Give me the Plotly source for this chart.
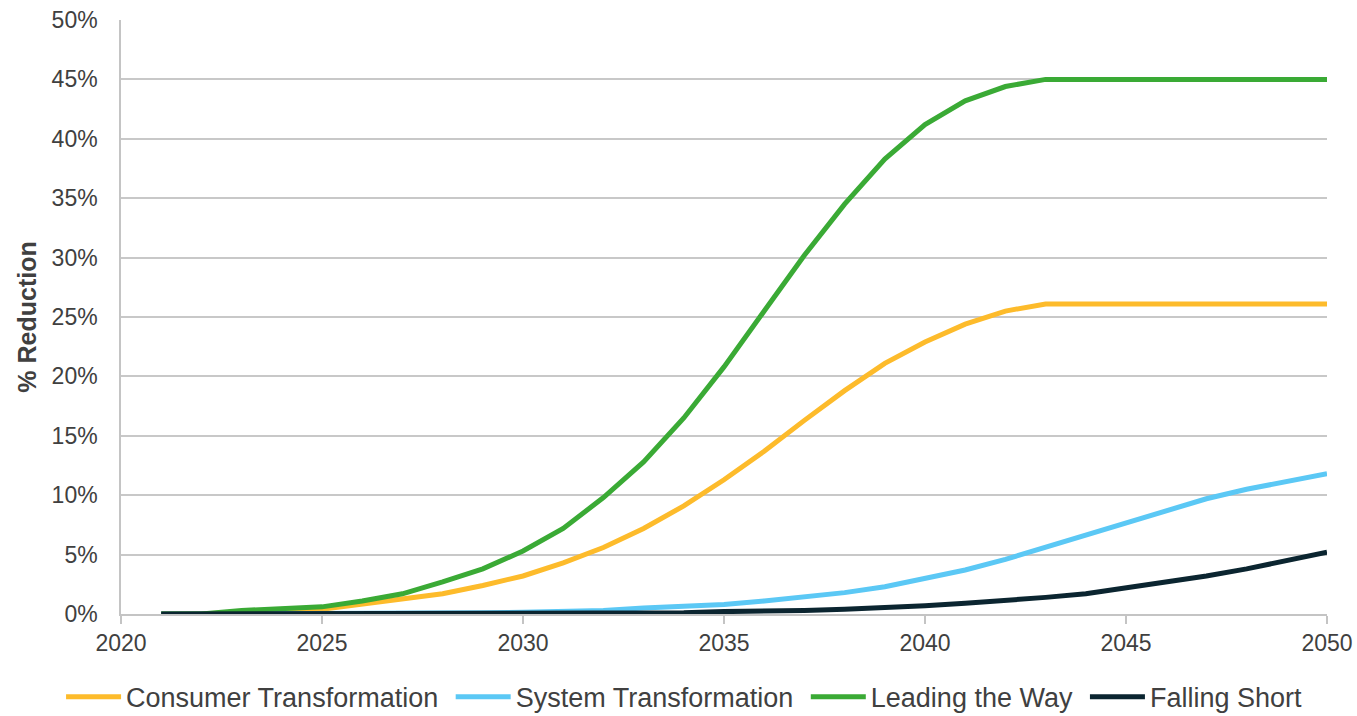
import plotly.graph_objects as go

years = list(range(2021, 2051))

consumer = [0.0, 0.0, 0.0, 0.1, 0.4, 0.8, 1.2, 1.7, 2.4, 3.2,
            4.3, 5.6, 7.2, 9.1, 11.3, 13.7, 16.3, 18.8, 21.1, 22.9,
            24.4, 25.5, 26.1, 26.1, 26.1, 26.1, 26.1, 26.1, 26.1, 26.1]
system = [0.0, 0.0, 0.0, 0.0, 0.0, 0.05, 0.05, 0.1, 0.1, 0.15,
          0.2, 0.3, 0.5, 0.6, 0.8, 1.1, 1.4, 1.8, 2.3, 3.0,
          3.7, 4.6, 5.6, 6.7, 7.7, 8.7, 9.7, 10.5, 11.2, 11.8]
leading = [0.0, 0.0, 0.3, 0.4, 0.6, 1.1, 1.7, 2.7, 3.8, 5.3,
           7.2, 9.8, 12.8, 16.5, 20.8, 25.5, 30.2, 34.5, 38.3, 41.2,
           43.2, 44.4, 45.0, 45.0, 45.0, 45.0, 45.0, 45.0, 45.0, 45.0]
falling = [0.0, 0.0, 0.0, 0.0, 0.0, 0.0, 0.0, 0.0, 0.0, 0.0,
           0.0, 0.0, 0.1, 0.1, 0.2, 0.2, 0.3, 0.4, 0.5, 0.7,
           0.9, 1.1, 1.4, 1.7, 2.2, 2.6, 3.2, 3.8, 4.5, 5.2]

series_names = ["Consumer Transformation", "System Transformation",
                "Leading the Way", "Falling Short"]
series_values = [consumer, system, leading, falling]
series_colors = ["#FDBB2B", "#5BC8F5", "#3AAA35", "#0B2530"]

y_ticks = [0, 5, 10, 15, 20, 25, 30, 35, 40, 45, 50]
y_tick_labels = [f"{v}%" for v in y_ticks]
x_ticks = [2020, 2025, 2030, 2035, 2040, 2045, 2050]

fig = go.Figure()
for i, (name, vals, col) in enumerate(zip(series_names, series_values, series_colors)):
    label = name + ("\u00a0" if i < len(series_names) - 1 else "")
    fig.add_trace(go.Scatter(
        x=years, y=vals, name=label, mode="lines",
        line=dict(color=col, width=5),
    ))

fig.update_layout(
    width=1357, height=716,
    margin=dict(l=121, r=30, t=20, b=102, autoexpand=False),
    paper_bgcolor="white", plot_bgcolor="white",
    font=dict(family="Liberation Sans, Arial, sans-serif", color="#404040", size=23),
    showlegend=True,
    legend=dict(
        orientation="h", xref="paper", x=-0.0497, xanchor="left",
        yref="paper", y=-0.14, yanchor="middle",
        font=dict(size=27, color="#404040"),
        itemwidth=55, traceorder="normal",
    ),
    xaxis=dict(
        range=[2020, 2050], tickvals=x_ticks, ticktext=[str(v) for v in x_ticks],
        showgrid=False, zeroline=False, automargin=False,
        showline=True, linecolor="#C4C4C4", linewidth=1.5,
        ticks="outside", ticklen=8, tickcolor="#C4C4C4", tickwidth=1.5,
        tickfont=dict(size=23, color="#404040"), ticklabeloverflow="allow",
    ),
    yaxis=dict(
        range=[0, 50], tickvals=y_ticks, ticktext=y_tick_labels,
        showgrid=True, gridcolor="#C8C8C8", gridwidth=1.5, automargin=False,
        zeroline=False, showline=True, linecolor="#C4C4C4", linewidth=1.5,
        ticks="", ticklabelstandoff=17, ticklabeloverflow="allow",
        tickfont=dict(size=23, color="#404040"),
        title=dict(text="<b>% Reduction</b>", font=dict(size=25, color="#404040"), standoff=8),
    ),
)

fig.write_html(
    "out.html",
    config={"displayModeBar": False},
    post_script="document.body.style.margin='0';document.body.style.overflow='hidden';",
)
